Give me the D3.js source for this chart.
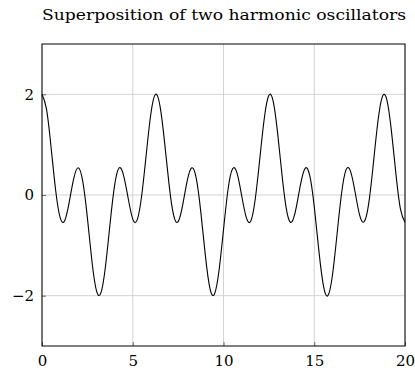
<!DOCTYPE html>
<html>
<head>
<meta charset="utf-8">
<script src="https://cdn.jsdelivr.net/npm/d3@7"></script>
<style>
  body { margin: 0; background: #fff; }
  svg text { font-family: "DejaVu Serif", "Liberation Serif", serif; fill: #000; }
</style>
</head>
<body>
<div id="chart"></div>
<script>
// sample positions (t) and the curve values
const xValues = d3.range(0, 20.001, 0.25);
const yValues = [
  2.00, 1.70, 0.95, 0.10, -0.45, -0.51, -0.14, 0.33, 0.54, 0.26,
  -0.45, -1.31, -1.90, -1.94, -1.41, -0.57, 0.19, 0.54, 0.38, -0.07,
  -0.48, -0.49, 0.01, 0.83, 1.62, 2.00, 1.77, 1.06, 0.21, -0.40,
  -0.53, -0.20, 0.28, 0.54, 0.33, -0.34, -1.20, -1.85, -1.97, -1.51,
  -0.69, 0.11, 0.52, 0.43, -0.01, -0.44, -0.52, -0.08, 0.72, 1.53,
  1.98, 1.84, 1.17, 0.31, -0.35, -0.54, -0.26, 0.22, 0.53, 0.39,
  -0.23, -1.09, -1.79, -2.00, -1.60, -0.80, 0.02, 0.50, 0.47, 0.06,
  -0.40, -0.53, -0.17, 0.60, 1.44, 1.95, 1.89, 1.28, 0.42, -0.28,
  -0.54
];
const xTicks = [0, 5, 10, 15, 20];
const yTicks = [-2, 0, 2];
const title = "Superposition of two harmonic oscillators";

const data = xValues.map((x, i) => ({ x, y: yValues[i] }));

const width = 415;
const height = 372;
const margin = { top: 44, right: 10, bottom: 26, left: 42 };

const svg = d3.select("#chart")
  .append("svg")
  .attr("width", width)
  .attr("height", height);

const x = d3.scaleLinear()
  .domain([0, 20])
  .range([margin.left, width - margin.right]);

const y = d3.scaleLinear()
  .domain([-3, 3])
  .range([height - margin.bottom, margin.top]);

// grid
svg.append("g")
  .selectAll("line")
  .data(xTicks)
  .join("line")
  .attr("x1", d => x(d)).attr("x2", d => x(d))
  .attr("y1", y(-3)).attr("y2", y(3))
  .attr("stroke", "#c8c8c8")
  .attr("stroke-width", 0.8);

svg.append("g")
  .selectAll("line")
  .data(yTicks)
  .join("line")
  .attr("x1", x(0)).attr("x2", x(20))
  .attr("y1", d => y(d)).attr("y2", d => y(d))
  .attr("stroke", "#c8c8c8")
  .attr("stroke-width", 0.8);

// curve
const line = d3.line()
  .x(d => x(d.x))
  .y(d => y(d.y))
  .curve(d3.curveNatural);

svg.append("path")
  .datum(data)
  .attr("fill", "none")
  .attr("stroke", "#000")
  .attr("stroke-width", 1.1)
  .attr("d", line);

// axes with inward ticks
const xAxis = svg.append("g")
  .attr("transform", `translate(0,${y(-3)})`)
  .call(d3.axisBottom(x).tickValues(xTicks).tickSize(-4).tickPadding(9).tickFormat(d3.format("d")));

const yAxis = svg.append("g")
  .attr("transform", `translate(${x(0)},0)`)
  .call(d3.axisLeft(y).tickValues(yTicks).tickSize(-4).tickPadding(8).tickFormat(d3.format("d")));

[xAxis, yAxis].forEach(g => {
  g.select(".domain").remove();
  g.selectAll(".tick line").attr("stroke", "#444").attr("stroke-width", 0.8);
  g.selectAll("text").style("font-size", "15px");
});

// frame
svg.append("rect")
  .attr("x", x(0)).attr("y", y(3))
  .attr("width", x(20) - x(0))
  .attr("height", y(-3) - y(3))
  .attr("fill", "none")
  .attr("stroke", "#000")
  .attr("stroke-width", 1);

// title
svg.append("text")
  .attr("x", 224)
  .attr("y", 20)
  .attr("text-anchor", "middle")
  .attr("textLength", 364)
  .attr("lengthAdjust", "spacingAndGlyphs")
  .style("font-size", "15px")
  .text(title);
</script>
</body>
</html>
